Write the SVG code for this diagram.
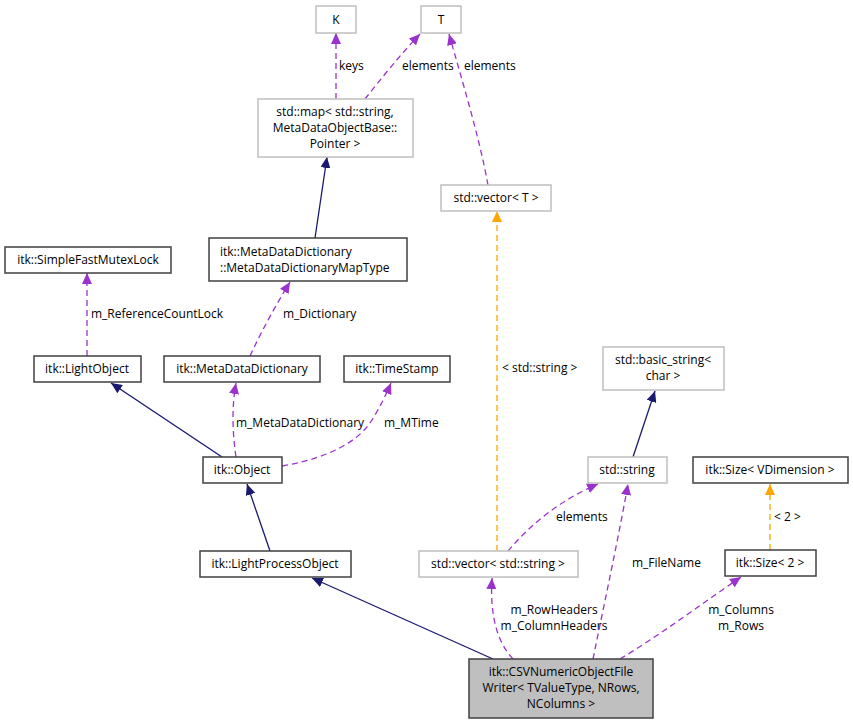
<svg xmlns="http://www.w3.org/2000/svg" width="853" height="725" viewBox="0 0 853 725">
<style>
text{font-family:"Open Sans","DejaVu Sans","Liberation Sans",sans-serif;font-size:12px;fill:#000}
.n rect{fill:#fff;stroke:#404040;stroke-width:1.5}
.g rect{fill:#fff;stroke:#bfbfbf;stroke-width:1.5}
.m rect{fill:#bfbfbf;stroke:#404040;stroke-width:1.5}
.c{text-anchor:middle}
.e{fill:none;stroke-width:1.3}
.inh{stroke:#191970}
.use{stroke:#9a32cd;stroke-dasharray:6,4}
.tpl{stroke:#ffa500;stroke-dasharray:6,4}
</style>
<defs>
<marker id="an" markerUnits="userSpaceOnUse" markerWidth="12" markerHeight="10" refX="11" refY="5" orient="auto"><path d="M0,0 L11,5 L0,10 Z" fill="#191970"/></marker>
<marker id="ap" markerUnits="userSpaceOnUse" markerWidth="12" markerHeight="10" refX="11" refY="5" orient="auto"><path d="M0,0 L11,5 L0,10 Z" fill="#9a32cd"/></marker>
<marker id="ao" markerUnits="userSpaceOnUse" markerWidth="12" markerHeight="10" refX="11" refY="5" orient="auto"><path d="M0,0 L11,5 L0,10 Z" fill="#ffa500"/></marker>
</defs>
<rect width="853" height="725" fill="#fff"/>
<g id="edges">
<path class="e use" d="M336,99 L336,33" marker-end="url(#ap)"/>
<text x="339" y="70">keys</text>
<path class="e use" d="M365,99 C380,80 400,55 420,34" marker-end="url(#ap)"/>
<text x="402" y="70">elements</text>
<path class="e use" d="M488,185 C480,140 462,80 449,34" marker-end="url(#ap)"/>
<text x="464" y="70">elements</text>
<path class="e inh" d="M315,238 L327,157" marker-end="url(#an)"/>
<path class="e tpl" d="M497,551 L497,211" marker-end="url(#ao)"/>
<text x="502" y="372">&lt; std::string &gt;</text>
<path class="e use" d="M87,356 L87,273" marker-end="url(#ap)"/>
<text x="91" y="318">m_ReferenceCountLock</text>
<path class="e use" d="M250,356 C262,330 276,305 290,282" marker-end="url(#ap)"/>
<text x="283" y="318">m_Dictionary</text>
<path class="e inh" d="M222,457 L111,383" marker-end="url(#an)"/>
<path class="e use" d="M236,457 C232,430 232,405 236,383" marker-end="url(#ap)"/>
<text x="236" y="427">m_MetaDataDictionary</text>
<path class="e use" d="M282,466 C330,458 360,440 372,420 C380,407 386,395 391,383" marker-end="url(#ap)"/>
<text x="384" y="427">m_MTime</text>
<path class="e inh" d="M270,551 L247,484" marker-end="url(#an)"/>
<path class="e inh" d="M493,659 L312,578" marker-end="url(#an)"/>
<path class="e use" d="M513,659 C495,640 490,610 492,578" marker-end="url(#ap)"/>
<text class="c" x="554" y="614">m_RowHeaders</text>
<text class="c" x="554" y="630">m_ColumnHeaders</text>
<path class="e use" d="M593,659 C605,600 618,540 628,484" marker-end="url(#ap)"/>
<text x="632" y="567">m_FileName</text>
<path class="e use" d="M508,551 C530,525 560,500 598,484" marker-end="url(#ap)"/>
<text x="556" y="521">elements</text>
<path class="e inh" d="M633,457 L655,391" marker-end="url(#an)"/>
<path class="e use" d="M620,659 C660,635 700,605 741,577" marker-end="url(#ap)"/>
<text class="c" x="741" y="614">m_Columns</text>
<text class="c" x="741" y="630">m_Rows</text>
<path class="e tpl" d="M770,550 L770,484" marker-end="url(#ao)"/>
<text x="774" y="521">&lt; 2 &gt;</text>
</g>
<g id="K" class="g"><rect x="316" y="6" width="40" height="27"/><text class="c" x="336" y="24">K</text></g>
<g id="T" class="g"><rect x="421" y="6" width="40" height="27"/><text class="c" x="441" y="24">T</text></g>
<g id="stdmap" class="g"><rect x="258" y="99" width="155" height="58"/><text class="c" x="335" y="116">std::map&lt; std::string,</text><text class="c" x="335" y="132">MetaDataObjectBase::</text><text class="c" x="335" y="148">Pointer &gt;</text></g>
<g id="vectorT" class="g"><rect x="441" y="185" width="110" height="26"/><text class="c" x="496" y="202">std::vector&lt; T &gt;</text></g>
<g id="MapType" class="n"><rect x="209" y="238" width="198" height="43"/><text x="220" y="256">itk::MetaDataDictionary</text><text x="220" y="272">::MetaDataDictionaryMapType</text></g>
<g id="Mutex" class="n"><rect x="5" y="247" width="166" height="26"/><text class="c" x="88" y="264">itk::SimpleFastMutexLock</text></g>
<g id="LightObject" class="n"><rect x="34" y="356" width="107" height="26"/><text class="c" x="87" y="373">itk::LightObject</text></g>
<g id="MDD" class="n"><rect x="164" y="356" width="156" height="26"/><text class="c" x="242" y="373">itk::MetaDataDictionary</text></g>
<g id="TimeStamp" class="n"><rect x="344" y="356" width="106" height="26"/><text class="c" x="397" y="373">itk::TimeStamp</text></g>
<g id="Object" class="n"><rect x="203" y="457" width="79" height="26"/><text class="c" x="242" y="474">itk::Object</text></g>
<g id="LPO" class="n"><rect x="200" y="551" width="151" height="26"/><text class="c" x="275" y="568">itk::LightProcessObject</text></g>
<g id="vecstr" class="g"><rect x="419" y="551" width="159" height="26"/><text class="c" x="498" y="568">std::vector&lt; std::string &gt;</text></g>
<g id="basicstr" class="g"><rect x="603" y="347" width="121" height="43"/><text class="c" x="663" y="364">std::basic_string&lt;</text><text class="c" x="663" y="380">char &gt;</text></g>
<g id="stdstring" class="g"><rect x="588" y="457" width="79" height="26"/><text class="c" x="627" y="474">std::string</text></g>
<g id="SizeV" class="n"><rect x="693" y="457" width="155" height="26"/><text class="c" x="770" y="474">itk::Size&lt; VDimension &gt;</text></g>
<g id="Size2" class="n"><rect x="725" y="550" width="91" height="26"/><text class="c" x="770" y="567">itk::Size&lt; 2 &gt;</text></g>
<g id="CSV" class="m"><rect x="469" y="659" width="184" height="59"/><text class="c" x="561" y="676">itk::CSVNumericObjectFile</text><text class="c" x="561" y="692">Writer&lt; TValueType, NRows,</text><text class="c" x="561" y="708">NColumns &gt;</text></g>
</svg>
